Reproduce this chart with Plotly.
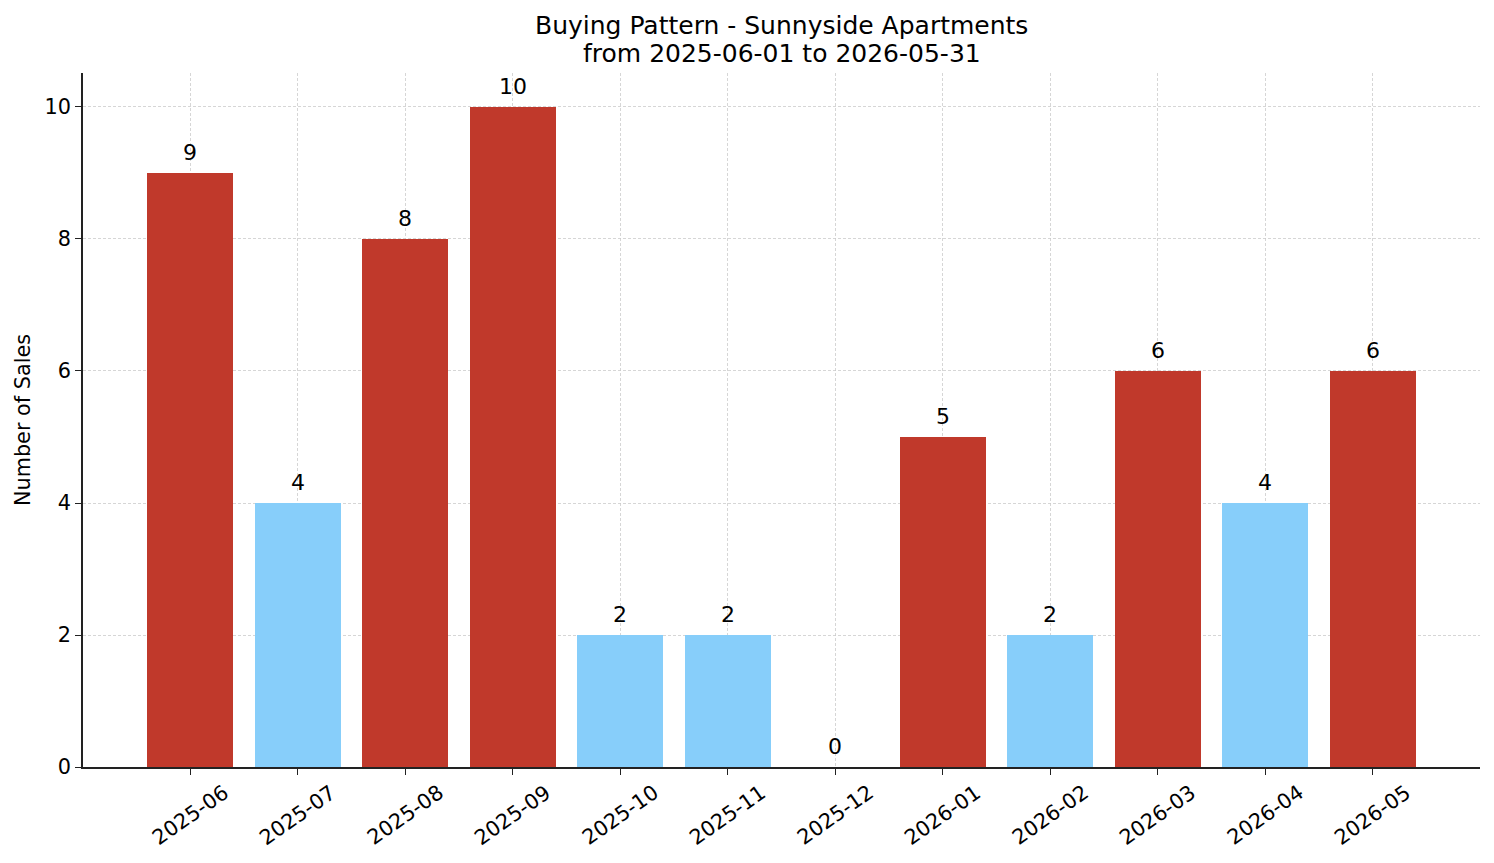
import plotly.graph_objects as go
import numpy as np

months = ["2025-06", "2025-07", "2025-08", "2025-09", "2025-10", "2025-11",
          "2025-12", "2026-01", "2026-02", "2026-03", "2026-04", "2026-05"]
sales = [9, 4, 8, 10, 2, 2, 0, 5, 2, 6, 4, 6]

title_line1 = "Buying Pattern - Sunnyside Apartments"
title_line2 = "from 2025-06-01 to 2026-05-31"
y_label = "Number of Sales"

HIGH = "#C0392B"
LOW = "#87CEFA"
FONT = "DejaVu Sans"
TICK = 20.8

median = float(np.median(sales))
colors = [HIGH if v > median else LOW for v in sales]
xs = list(range(len(months)))

fig = go.Figure()
fig.add_trace(go.Bar(x=xs, y=sales, width=0.8, marker=dict(color=colors, line=dict(width=0)),
                     hoverinfo="skip"))

annotations = []
for i, v in enumerate(sales):
    annotations.append(dict(x=i, y=v, xref="x", yref="y", text=str(v), showarrow=False,
                            yanchor="bottom", xanchor="center", yshift=6,
                            font=dict(family=FONT, size=22, color="#000")))
for i, m in enumerate(months):
    annotations.append(dict(x=i, y=0, xref="x", yref="paper", text=m, showarrow=False,
                            textangle=-35, xanchor="center", yanchor="middle", yshift=-48,
                            font=dict(family=FONT, size=TICK, color="#000")))
# two-line title
annotations.append(dict(x=0.5, y=1, xref="paper", yref="paper", text=title_line1, showarrow=False,
                        xanchor="center", yanchor="middle", yshift=73 - 25,
                        font=dict(family=FONT, size=25, color="#000")))
annotations.append(dict(x=0.5, y=1, xref="paper", yref="paper", text=title_line2, showarrow=False,
                        xanchor="center", yanchor="middle", yshift=73 - 53,
                        font=dict(family=FONT, size=25, color="#000")))

fig.update_layout(
    width=1494, height=863,
    margin=dict(l=83, r=14, t=73, b=96),
    paper_bgcolor="white", plot_bgcolor="white",
    showlegend=False,
    bargap=0,
    annotations=annotations,
    font=dict(family=FONT, color="#000"),
)
grid = dict(showgrid=True, gridcolor="rgba(200,200,200,0.75)", gridwidth=0.8, griddash="3px,2px")
fig.update_xaxes(
    range=[-1.0, 12.0], tickmode="array", tickvals=xs, ticktext=[""] * len(xs),
    showline=True, linecolor="#222", linewidth=1.5,
    ticks="outside", ticklen=6, tickwidth=1.2, tickcolor="#222",
    zeroline=False, layer="above traces", **grid,
)
fig.update_yaxes(
    range=[0, 10.515], tickvals=[0, 2, 4, 6, 8, 10],
    showline=True, linecolor="#222", linewidth=1.5,
    ticks="outside", ticklen=6, tickwidth=1.2, tickcolor="#222",
    zeroline=False, layer="above traces", **grid,
    tickfont=dict(family=FONT, size=TICK, color="#000"),
    title=dict(text=y_label, font=dict(family=FONT, size=TICK, color="#000"), standoff=8),
)

fig.write_html("out.html")
